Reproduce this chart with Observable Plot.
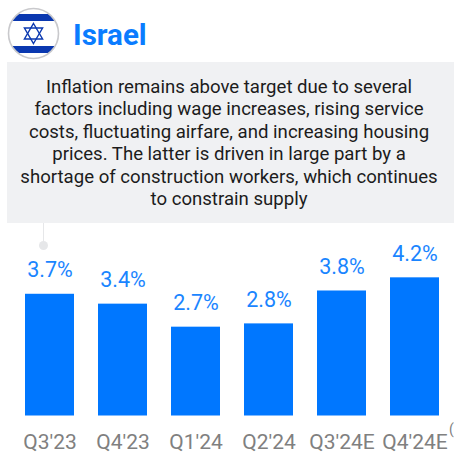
<!DOCTYPE html>
<html><head><meta charset="utf-8">
<script src="https://cdn.jsdelivr.net/npm/d3@7"></script>
<script src="https://cdn.jsdelivr.net/npm/@observablehq/plot@0.6"></script>
<style>
html,body{margin:0;padding:0;background:#fff;overflow:hidden}
#wrap{position:relative;width:454px;height:453px;overflow:hidden;font-family:Roboto,sans-serif}
#box{position:absolute;left:7px;top:62px;width:447px;height:161px;background:#f0f1f3}
#note{position:absolute;left:0;top:76px;width:458px;text-align:center;font-size:18.6px;line-height:22.4px;color:#1c1c1c}
#title{position:absolute;left:73px;top:17px;font-size:29.5px;line-height:36px;font-weight:700;color:#0a7cff;margin:0}
#flag{position:absolute;left:7px;top:7px}
#chart{position:absolute;left:0;top:0}
#stem{position:absolute;left:43px;top:223px;width:1px;height:20px;background:#e6e7e9}
#dot{position:absolute;left:39px;top:241px;width:9px;height:9px;border-radius:50%;background:#e6e7e9}
#cut{position:absolute;left:449px;top:421px;font-size:14px;color:#7f7f7f}
</style></head><body>
<div id="wrap">
<svg id="flag" width="54" height="54" viewBox="0 0 54 54">
<defs><clipPath id="c"><circle cx="26.5" cy="26.5" r="25"/></clipPath></defs>
<circle cx="26.5" cy="26.5" r="25" fill="#fff"/>
<g clip-path="url(#c)" fill="#0a38b0">
<rect x="0" y="7" width="54" height="7"/>
<rect x="0" y="39" width="54" height="7"/>
</g>
<circle cx="26.5" cy="26.5" r="25" fill="none" stroke="#c9c9cc" stroke-width="1.6"/>
<g fill="none" stroke="#0a38b0" stroke-width="1.4">
<path d="M26.5 16.5 L35.6 32 L17.4 32 Z"/>
<path d="M26.5 36.5 L35.6 21 L17.4 21 Z"/>
</g>
</svg>
<h1 id="title">Israel</h1>
<div id="box"></div>
<div id="stem"></div><div id="dot"></div>
<div id="note">Inflation remains above target due to several<br>factors including wage increases, rising service<br>costs, fluctuating airfare, and increasing housing<br>prices. The latter is driven in large part by a<br>shortage of construction workers, which continues<br>to constrain supply</div>
<div id="chart"></div>
<div id="cut">(</div>
</div>
<script>
const quarters = ["Q3'23","Q4'23","Q1'24","Q2'24","Q3'24E","Q4'24E"];
const inflation = [3.7,3.4,2.7,2.8,3.8,4.2];
const labels = ["3.7%","3.4%","2.7%","2.8%","3.8%","4.2%"];
const rows = quarters.map((q,i)=>({q,v:inflation[i],l:labels[i]}));
const plot = Plot.plot({
  width:454,height:453,
  marginLeft:0,marginRight:0,marginTop:0,marginBottom:37,
  style:{background:"transparent",fontFamily:"Roboto, sans-serif"},
  x:{domain:quarters,range:[-0.9,463.9],padding:0.332,align:0.5,label:null},
  y:{domain:[0,12.63],range:[415.5,0],axis:null},
  marks:[
    Plot.barY(rows,{x:"q",y:"v",fill:"#0077ff"}),
    Plot.ruleY([0],{x1:0,x2:454,stroke:"#dcdcdc",strokeWidth:1.5}),
    Plot.text(rows,{x:"q",y:"v",text:"l",dy:-24,fill:"#1a85ff",fontSize:21.5}),
    Plot.axisX({tickSize:0,tickPadding:18,fontSize:21,color:"#808080",label:null})
  ]
});
d3.select(plot).selectAll("[aria-label='x-axis tick label'] text").attr("fill","#808080");
document.getElementById("chart").append(plot);
</script>
</body></html>
